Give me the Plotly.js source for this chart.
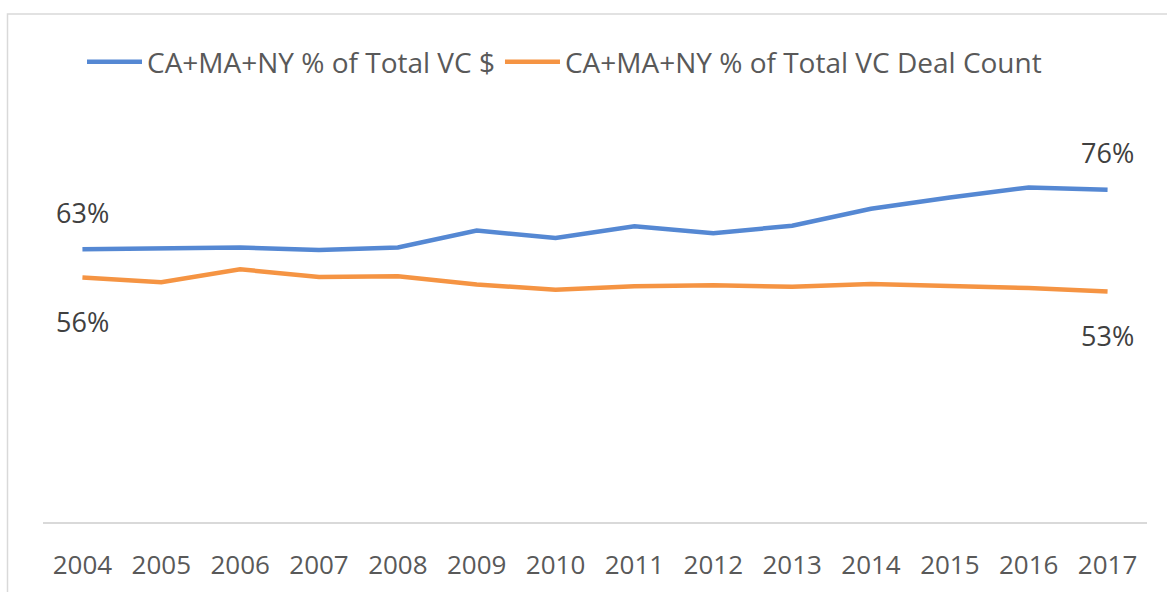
<!DOCTYPE html>
<html>
<head>
<meta charset="utf-8">
<script src="https://cdn.plot.ly/plotly-3.0.1.min.js"></script>
<style>
  html, body { margin: 0; padding: 0; background: #fff; }
  #chart { width: 1167px; height: 592px; }
</style>
</head>
<body>
<div id="chart"></div>
<script>
// ---- data ----
const years = ["2004","2005","2006","2007","2008","2009","2010","2011","2012","2013","2014","2015","2016","2017"];
const vcDollarShare = [62.7, 62.8, 63.1, 62.5, 63.1, 67.0, 65.3, 68.0, 66.4, 68.1, 72.0, 74.6, 76.9, 76.4];
const vcDealShare   = [56.2, 55.1, 58.1, 56.3, 56.5, 54.6, 53.4, 54.2, 54.4, 54.1, 54.7, 54.3, 53.8, 53.0];
const seriesNames = ["CA+MA+NY % of Total VC $", "CA+MA+NY % of Total VC Deal Count"];

// ---- styling ----
const FONT = "'Open Sans', 'Noto Sans', sans-serif";
const BLUE = "#5588d3";
const ORANGE = "#f59443";
const W = 1167, H = 592;
const M = {l: 43, r: 20, t: 87, b: 70};
const plotW = W - M.l - M.r, plotH = H - M.t - M.b;

const traces = [
  {x: years, y: vcDollarShare, name: seriesNames[0], type: "scatter", mode: "lines",
   line: {color: BLUE, width: 4.5}, hoverinfo: "x+y"},
  {x: years, y: vcDealShare, name: seriesNames[1], type: "scatter", mode: "lines",
   line: {color: ORANGE, width: 4.5}, hoverinfo: "x+y"}
];

// category axis: annotation x uses the category serial number
function label(series, idx, above) {
  return {
    x: idx, y: series[idx], xref: "x", yref: "y",
    text: Math.round(series[idx]) + "%", showarrow: false,
    yshift: above ? 37 : -44,
    font: {family: FONT, size: 27, color: "#404040"}
  };
}
const last = years.length - 1;
const annotations = [
  label(vcDollarShare, 0, true),
  label(vcDealShare, 0, false),
  label(vcDollarShare, last, true),
  label(vcDealShare, last, false)
];

// chart border (outer frame), converted from pixels to paper coords
const px2x = p => (p - M.l) / plotW;
const py2y = p => (H - M.b - p) / plotH;
const shapes = [
  {type: "rect", xref: "paper", yref: "paper",
   x0: px2x(7.5), x1: px2x(W + 30), y0: py2y(H + 30), y1: py2y(14),
   line: {color: "#d9d9d9", width: 1.5}, fillcolor: "rgba(0,0,0,0)", layer: "below"}
];

const layout = {
  width: W, height: H,
  margin: M,
  paper_bgcolor: "#fff", plot_bgcolor: "#fff",
  font: {family: FONT, color: "#595959"},
  showlegend: true,
  legend: {
    orientation: "h", xref: "container", yref: "container",
    x: 82 / W, y: 1 - 62 / H, xanchor: "left", yanchor: "middle",
    font: {family: FONT, size: 28, color: "#595959"},
    itemwidth: 55, tracegroupgap: 0, bgcolor: "rgba(0,0,0,0)"
  },
  xaxis: {
    type: "category", range: [-0.5, years.length - 0.5],
    showgrid: false, zeroline: false, showline: true,
    linecolor: "#d9d9d9", linewidth: 2,
    ticks: "", tickfont: {family: FONT, size: 26, color: "#595959"},
    ticklabelstandoff: 19, fixedrange: true
  },
  yaxis: {
    range: [0, 100], showgrid: false, zeroline: false, showline: false,
    showticklabels: false, ticks: "", fixedrange: true
  },
  annotations: annotations,
  shapes: shapes
};

Plotly.newPlot("chart", traces, layout, {displayModeBar: false, staticPlot: true});
</script>
</body>
</html>
